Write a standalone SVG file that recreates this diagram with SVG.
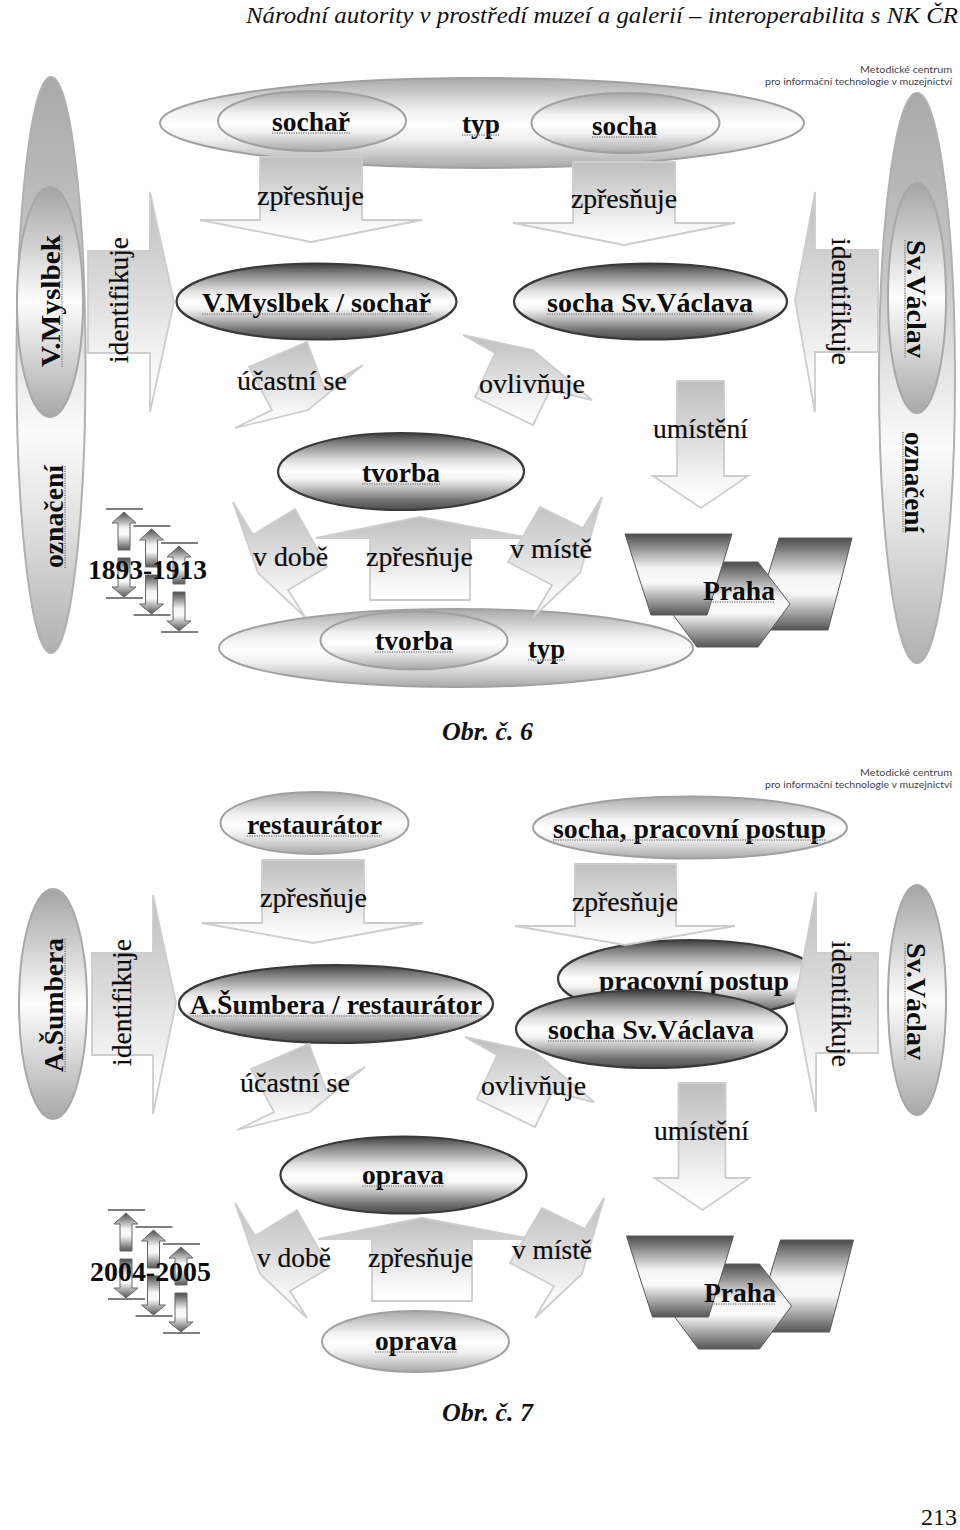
<svg xmlns="http://www.w3.org/2000/svg" width="960" height="1530" viewBox="0 0 960 1530">
<style>
text{font-family:"Liberation Serif","Times New Roman",serif;fill:#0c0c0c}
.l{font-size:28px;stroke:#0c0c0c;stroke-width:.2}
.b{font-size:28px;font-weight:700}
.head{font-size:24px;font-style:italic;fill:#111}
.cap{font-size:26px;font-style:italic;font-weight:700;fill:#111}
.pg{font-size:24px;fill:#111}
.logo{font-family:"Lato","DejaVu Sans",sans-serif;font-size:10px;fill:#444}
.sp{stroke:#8a8a8a;stroke-width:1.6;stroke-dasharray:1.2 1.2;fill:none}
.dark{stroke:#3a3a3a;stroke-width:2.2;fill:url(#gDark)}
.soft{stroke:#a0a0a0;stroke-width:2;fill:url(#gSoft)}
.tall{stroke:#b0b0b0;stroke-width:2;fill:url(#gTall)}
.inner{stroke:#a8a8a8;stroke-width:2;fill:url(#gInner)}
.arrow{stroke:#cdcdcd;stroke-width:1.8;fill:url(#gArrow)}
.block{stroke:#5a5a5a;stroke-width:1;fill:url(#gBlock)}
.mini{stroke:#666;stroke-width:1;fill:url(#gBlock)}
.rule{stroke:#555;stroke-width:1.5}
</style>
<defs>
<linearGradient id="gDark" x1="0" y1="0" x2="0" y2="1">
<stop offset="0" stop-color="#3c3c3c"/><stop offset=".12" stop-color="#7c7c7c"/><stop offset=".36" stop-color="#e0e0e0"/><stop offset=".5" stop-color="#ffffff"/><stop offset=".6" stop-color="#f4f4f4"/><stop offset=".74" stop-color="#b4b4b4"/><stop offset=".88" stop-color="#707070"/><stop offset="1" stop-color="#4c4c4c"/>
</linearGradient>
<linearGradient id="gSoft" x1="0" y1="0" x2="0" y2="1">
<stop offset="0" stop-color="#a8a8a8"/><stop offset=".36" stop-color="#f0f0f0"/><stop offset=".52" stop-color="#ffffff"/><stop offset=".68" stop-color="#f0f0f0"/><stop offset="1" stop-color="#a8a8a8"/>
</linearGradient>
<linearGradient id="gTall" x1="0" y1="0" x2="0" y2="1">
<stop offset="0" stop-color="#a9a9a9"/><stop offset=".3" stop-color="#c4c4c4"/><stop offset=".62" stop-color="#fbfbfb"/><stop offset=".78" stop-color="#e0e0e0"/><stop offset="1" stop-color="#b0b0b0"/>
</linearGradient>
<linearGradient id="gInner" x1="0" y1="0" x2="0" y2="1">
<stop offset="0" stop-color="#a4a4a4"/><stop offset=".5" stop-color="#fdfdfd"/><stop offset="1" stop-color="#a8a8a8"/>
</linearGradient>
<linearGradient id="gArrow" x1="0" y1="0" x2="0" y2="1">
<stop offset="0" stop-color="#bebebe"/><stop offset=".45" stop-color="#dcdcdc"/><stop offset=".8" stop-color="#f8f8f8"/><stop offset="1" stop-color="#ffffff"/>
</linearGradient>
<linearGradient id="gBlock" x1="0" y1="0" x2="0" y2="1">
<stop offset="0" stop-color="#4c4c4c"/><stop offset=".42" stop-color="#f4f4f4"/><stop offset=".6" stop-color="#fafafa"/><stop offset="1" stop-color="#555555"/>
</linearGradient>

<!-- bent and straight arrows shared by both schemes -->
<polygon id="bend-joins" class="arrow" points="307,342 324,388 363,365 308,410 235,428 272,410 249,367"/>
<polygon id="bend-affects" class="arrow" points="463,335 533,350 592,400 550,390 533,425 475,397 495,353"/>
<polygon id="arrow-place" class="arrow" points="677,381 724,381 724,476 748,476 701,508 653,476 677,476"/>
<polygon id="bend-time" class="arrow" points="233,502 253,535 295,509 327,567 288,590 305,617 258,573"/>
<polygon id="bend-where" class="arrow" points="602,497 583,528 540,507 508,562 552,585 533,617 580,573"/>
<polygon id="arrow-up" class="arrow" points="420,517 530,538 470,538 470,600 370,600 370,538 316,538"/>

<!-- pair of opposed arrows between two rules -->
<g id="span">
<line class="rule" x1="106" y1="509" x2="143" y2="509"/>
<line class="rule" x1="106" y1="598" x2="143" y2="598"/>
<polygon class="mini" points="124,512 136,523 130,523 130,550 118,550 118,523 112,523"/>
<polygon class="mini" points="118,558 130,558 130,587 136,587 124,597 112,587 118,587"/>
</g>
<g id="span-set">
<use href="#span"/>
<use href="#span" transform="translate(27.5 17)"/>
<use href="#span" transform="translate(55 34)"/>
</g>
<g id="praha-blocks">
<polygon class="block" points="779,538 852,538 828,630 752,630"/>
<polygon class="block" points="723,562 758,562 790,604 758,647 697,647 665,604"/>
<polygon class="block" points="625,534 732,534 707,615 651,615"/>
</g>
</defs>

<rect width="960" height="1530" fill="#ffffff"/>

<g id="page-text">
<text class="head" x="246" y="22.500" textLength="712" lengthAdjust="spacingAndGlyphs">Národní autority v prostředí muzeí a galerií – interoperabilita s NK ČR</text>
<text class="cap" x="442" y="740" textLength="91" lengthAdjust="spacingAndGlyphs">Obr. č. 6</text>
<text class="cap" x="442" y="1421" textLength="91" lengthAdjust="spacingAndGlyphs">Obr. č. 7</text>
<text class="pg" x="921" y="1525" textLength="36" lengthAdjust="spacingAndGlyphs">213</text>
<text class="logo" x="860" y="73" textLength="92" lengthAdjust="spacingAndGlyphs">Metodické centrum</text>
<text class="logo" x="765" y="85" textLength="187" lengthAdjust="spacingAndGlyphs">pro informační technologie v muzejnictví</text>
<text class="logo" x="860" y="776" textLength="92" lengthAdjust="spacingAndGlyphs">Metodické centrum</text>
<text class="logo" x="765" y="788" textLength="187" lengthAdjust="spacingAndGlyphs">pro informační technologie v muzejnictví</text>
</g>

<!-- Scheme 6: sculptor, statue and their creation -->
<g id="scheme-6">
<g id="n6-typ-top">
<ellipse class="soft" cx="482" cy="123" rx="322" ry="45"/>
<text class="b" x="462" y="133" textLength="38" lengthAdjust="spacingAndGlyphs">typ</text>
<line class="sp" x1="462" y1="135" x2="500" y2="135"/>
</g>
<g id="n6-sochar">
<ellipse class="soft" cx="312" cy="121" rx="94" ry="30"/>
<text class="b" x="272" y="131" textLength="78" lengthAdjust="spacingAndGlyphs">sochař</text>
<line class="sp" x1="272" y1="133" x2="350" y2="133"/>
</g>
<g id="n6-socha">
<ellipse class="soft" cx="625.5" cy="123" rx="94" ry="30"/>
<text class="b" x="592" y="135" textLength="65" lengthAdjust="spacingAndGlyphs">socha</text>
<line class="sp" x1="592" y1="137" x2="657" y2="137"/>
</g>
<g id="n6-oznaceni-left">
<ellipse class="tall" cx="51" cy="365" rx="34.500" ry="288"/>
<text class="b" transform="translate(63 568) rotate(-90)" textLength="103" lengthAdjust="spacingAndGlyphs">označení</text>
<line class="sp" x1="65" y1="568" x2="65" y2="465"/>
</g>
<g id="n6-myslbek">
<ellipse class="inner" cx="50" cy="302" rx="33" ry="115"/>
<text class="b" transform="translate(60 367) rotate(-90)" textLength="132" lengthAdjust="spacingAndGlyphs">V.Myslbek</text>
<line class="sp" x1="62" y1="367" x2="62" y2="235"/>
</g>
<g id="n6-oznaceni-right">
<ellipse class="tall" cx="917" cy="378" rx="38" ry="285"/>
<text class="b" transform="translate(905 432) rotate(90)" textLength="101" lengthAdjust="spacingAndGlyphs">označení</text>
<line class="sp" x1="903" y1="432" x2="903" y2="533"/>
</g>
<g id="n6-vaclav">
<ellipse class="inner" cx="917" cy="298" rx="29" ry="115"/>
<text class="b" transform="translate(907 240) rotate(90)" textLength="118" lengthAdjust="spacingAndGlyphs">Sv.Václav</text>
<line class="sp" x1="905" y1="240" x2="905" y2="358"/>
</g>
<g id="n6-myslbek-sochar">
<ellipse class="dark" cx="316.500" cy="301.500" rx="140" ry="38"/>
<text class="b" x="202" y="312" textLength="229" lengthAdjust="spacingAndGlyphs">V.Myslbek / sochař</text>
<line class="sp" x1="202" y1="314" x2="431" y2="314"/>
</g>
<g id="n6-socha-vaclava">
<ellipse class="dark" cx="650.500" cy="301.500" rx="136.500" ry="38"/>
<text class="b" x="547" y="312" textLength="206" lengthAdjust="spacingAndGlyphs">socha Sv.Václava</text>
<line class="sp" x1="547" y1="314" x2="753" y2="314"/>
</g>
<g id="n6-tvorba">
<ellipse class="dark" cx="401" cy="471.500" rx="123" ry="38.500"/>
<text class="b" x="362" y="482" textLength="78" lengthAdjust="spacingAndGlyphs">tvorba</text>
<line class="sp" x1="362" y1="484" x2="440" y2="484"/>
</g>
<g id="n6-praha">
<use href="#praha-blocks"/>
<text class="b" x="703" y="600" textLength="72" lengthAdjust="spacingAndGlyphs">Praha</text>
<line class="sp" x1="703" y1="602" x2="775" y2="602"/>
</g>
<g id="n6-typ-bottom">
<ellipse class="soft" cx="456" cy="648" rx="237" ry="39"/>
<text class="b" x="528" y="658" textLength="37" lengthAdjust="spacingAndGlyphs">typ</text>
<line class="sp" x1="528" y1="660" x2="565" y2="660"/>
</g>
<g id="n6-tvorba-inner">
<ellipse class="soft" cx="414" cy="640.500" rx="93.500" ry="29"/>
<text class="b" x="375" y="650" textLength="78" lengthAdjust="spacingAndGlyphs">tvorba</text>
<line class="sp" x1="375" y1="652" x2="453" y2="652"/>
</g>
<g id="n6-dates">
<use href="#span-set"/>
<text class="b" x="88" y="579" textLength="119" lengthAdjust="spacingAndGlyphs">1893-1913</text>
</g>
<g id="connectors-6">
<polygon class="arrow" points="260,157 362,157 362,220 422,220 311,242 200,220 260,220"/>
<text class="l" x="257" y="205" textLength="107" lengthAdjust="spacingAndGlyphs">zpřesňuje</text>
<polygon class="arrow" points="573,162 675,162 675,223 735,223 624,245 513,223 573,223"/>
<text class="l" x="571" y="208" textLength="106" lengthAdjust="spacingAndGlyphs">zpřesňuje</text>
<polygon class="arrow" points="88,251 150,251 150,192 174,302 150,412 150,353 88,353"/>
<text class="l" transform="translate(128 363) rotate(-90)" textLength="126" lengthAdjust="spacingAndGlyphs">identifikuje</text>
<polygon class="arrow" points="878,250 815,250 815,192 795,300 815,412 815,352 878,352"/>
<text class="l" transform="translate(832 238) rotate(90)" textLength="127" lengthAdjust="spacingAndGlyphs">identifikuje</text>
<use href="#bend-joins"/>
<text class="l" x="237" y="390" textLength="110" lengthAdjust="spacingAndGlyphs">účastní se</text>
<use href="#bend-affects"/>
<text class="l" x="479" y="393" textLength="106" lengthAdjust="spacingAndGlyphs">ovlivňuje</text>
<use href="#arrow-place"/>
<text class="l" x="653" y="438" textLength="95" lengthAdjust="spacingAndGlyphs">umístění</text>
<use href="#arrow-up"/>
<use href="#bend-time"/>
<use href="#bend-where"/>
<text class="l" x="253" y="566" textLength="75" lengthAdjust="spacingAndGlyphs">v době</text>
<text class="l" x="366" y="566" textLength="107" lengthAdjust="spacingAndGlyphs">zpřesňuje</text>
<text class="l" x="510" y="558" textLength="82" lengthAdjust="spacingAndGlyphs">v místě</text>
</g>
</g>

<!-- Scheme 7: restorer, working procedure and the repair -->
<g id="scheme-7">
<g id="n7-restaurator">
<ellipse class="soft" cx="314.500" cy="823" rx="94" ry="31"/>
<text class="b" x="247" y="834" textLength="135" lengthAdjust="spacingAndGlyphs">restaurátor</text>
<line class="sp" x1="247" y1="836" x2="382" y2="836"/>
</g>
<g id="n7-socha-postup">
<ellipse class="soft" cx="690" cy="827.500" rx="157" ry="31"/>
<text class="b" x="553" y="838" textLength="273" lengthAdjust="spacingAndGlyphs">socha, pracovní postup</text>
<line class="sp" x1="553" y1="840" x2="826" y2="840"/>
</g>
<g id="n7-sumbera">
<ellipse class="inner" cx="53" cy="1004" rx="34" ry="115"/>
<text class="b" transform="translate(63 1072) rotate(-90)" textLength="134" lengthAdjust="spacingAndGlyphs">A.Šumbera</text>
<line class="sp" x1="65" y1="1072" x2="65" y2="938"/>
</g>
<g id="n7-vaclav">
<ellipse class="inner" cx="917" cy="1000" rx="29" ry="115"/>
<text class="b" transform="translate(907 943) rotate(90)" textLength="117" lengthAdjust="spacingAndGlyphs">Sv.Václav</text>
<line class="sp" x1="905" y1="943" x2="905" y2="1060"/>
</g>
<g id="n7-sumbera-restaurator">
<ellipse class="dark" cx="336" cy="1004" rx="157" ry="39"/>
<text class="b" x="190" y="1014" textLength="292" lengthAdjust="spacingAndGlyphs">A.Šumbera / restaurátor</text>
<line class="sp" x1="190" y1="1016" x2="482" y2="1016"/>
</g>
<g id="n7-postup">
<ellipse class="dark" cx="690" cy="979" rx="132" ry="39"/>
<text class="b" x="599" y="990" textLength="190" lengthAdjust="spacingAndGlyphs">pracovní postup</text>
</g>
<g id="n7-socha-vaclava">
<ellipse class="dark" cx="651.500" cy="1029" rx="135.500" ry="39"/>
<text class="b" x="548" y="1039" textLength="206" lengthAdjust="spacingAndGlyphs">socha Sv.Václava</text>
<line class="sp" x1="548" y1="1041" x2="754" y2="1041"/>
</g>
<g id="n7-oprava">
<ellipse class="dark" cx="403.500" cy="1175" rx="123" ry="38.500"/>
<text class="b" x="362" y="1184" textLength="82" lengthAdjust="spacingAndGlyphs">oprava</text>
<line class="sp" x1="362" y1="1186" x2="444" y2="1186"/>
</g>
<g id="n7-praha">
<use href="#praha-blocks" transform="translate(1.500 702)"/>
<text class="b" x="704" y="1302" textLength="72" lengthAdjust="spacingAndGlyphs">Praha</text>
<line class="sp" x1="704" y1="1304" x2="776" y2="1304"/>
</g>
<g id="n7-oprava-bottom">
<ellipse class="soft" cx="415.500" cy="1341.500" rx="93.500" ry="30.500"/>
<text class="b" x="375" y="1350" textLength="82" lengthAdjust="spacingAndGlyphs">oprava</text>
<line class="sp" x1="375" y1="1352" x2="457" y2="1352"/>
</g>
<g id="n7-dates">
<use href="#span-set" transform="translate(2 701)"/>
<text class="b" x="90" y="1281" textLength="121" lengthAdjust="spacingAndGlyphs">2004-2005</text>
</g>
<g id="connectors-7">
<polygon class="arrow" points="262,860 364,860 364,923 423,923 313,943 202,923 262,923"/>
<text class="l" x="260" y="907" textLength="107" lengthAdjust="spacingAndGlyphs">zpřesňuje</text>
<polygon class="arrow" points="575,864 676,864 676,926 735,926 625,945 515,926 575,926"/>
<text class="l" x="572" y="911" textLength="106" lengthAdjust="spacingAndGlyphs">zpřesňuje</text>
<polygon class="arrow" points="92,953 153,953 153,895 176,1003 153,1114 153,1055 92,1055"/>
<text class="l" transform="translate(131 1066) rotate(-90)" textLength="127" lengthAdjust="spacingAndGlyphs">identifikuje</text>
<polygon class="arrow" points="878,953 816,953 816,892 795,1002 816,1112 816,1053 878,1053"/>
<text class="l" transform="translate(832 941) rotate(90)" textLength="126" lengthAdjust="spacingAndGlyphs">identifikuje</text>
<use href="#bend-joins" transform="translate(2 702)"/>
<text class="l" x="240" y="1092" textLength="110" lengthAdjust="spacingAndGlyphs">účastní se</text>
<use href="#bend-affects" transform="translate(2 702)"/>
<text class="l" x="481" y="1095" textLength="105" lengthAdjust="spacingAndGlyphs">ovlivňuje</text>
<use href="#arrow-place" transform="translate(1.500 702)"/>
<text class="l" x="654" y="1140" textLength="95" lengthAdjust="spacingAndGlyphs">umístění</text>
<use href="#arrow-up" transform="translate(2 701)"/>
<use href="#bend-time" transform="translate(2 701)"/>
<use href="#bend-where" transform="translate(2 701)"/>
<text class="l" x="257" y="1267" textLength="74" lengthAdjust="spacingAndGlyphs">v době</text>
<text class="l" x="368" y="1267" textLength="105" lengthAdjust="spacingAndGlyphs">zpřesňuje</text>
<text class="l" x="512" y="1259" textLength="80" lengthAdjust="spacingAndGlyphs">v místě</text>
</g>
</g>
</svg>
